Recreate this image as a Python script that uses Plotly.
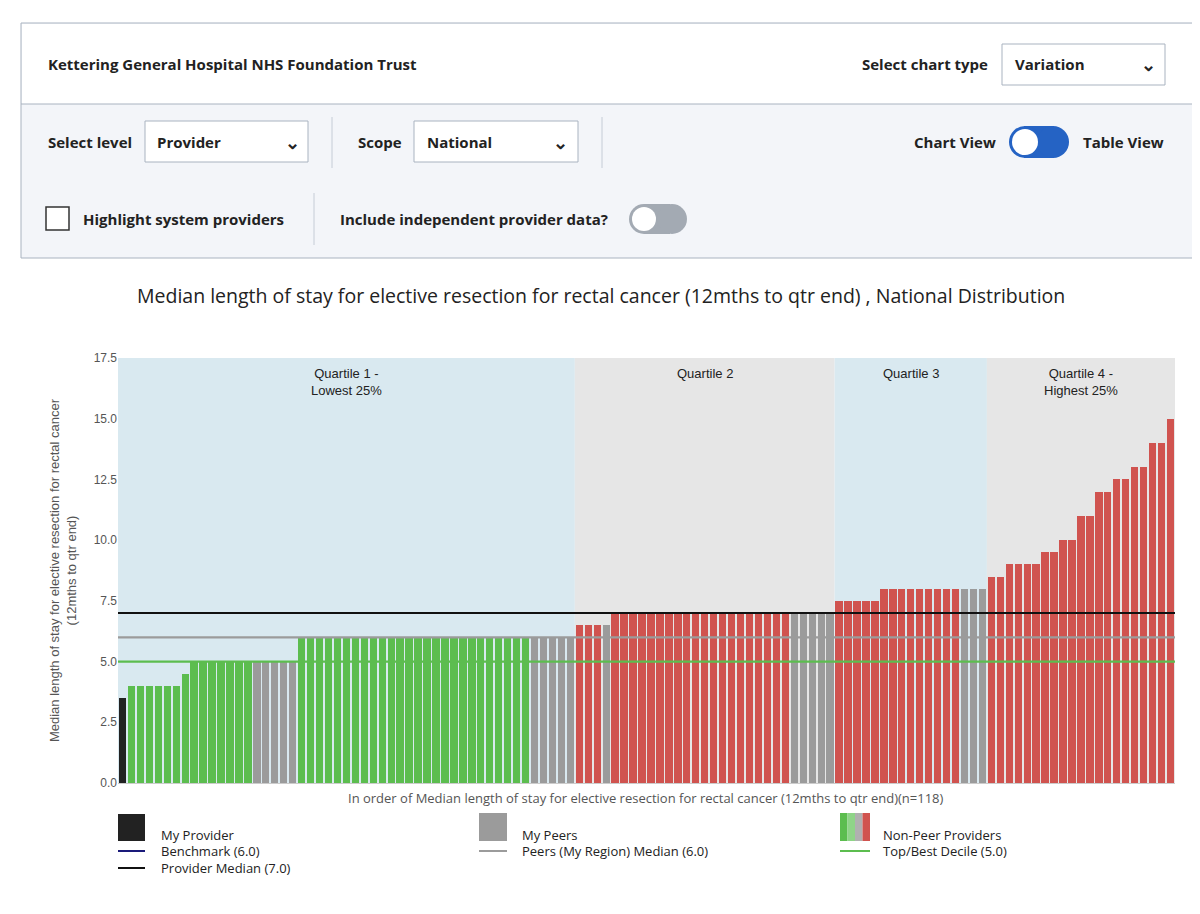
import plotly.graph_objects as go

# bar values in rank order (n=118)
values = [3.5,
          4.0, 4.0, 4.0, 4.0, 4.0, 4.0, 4.5,
          5.0, 5.0, 5.0, 5.0, 5.0, 5.0, 5.0, 5.0, 5.0, 5.0, 5.0, 5.0,
          6.0, 6.0, 6.0, 6.0, 6.0, 6.0, 6.0, 6.0, 6.0, 6.0, 6.0, 6.0, 6.0,
          6.0, 6.0, 6.0, 6.0, 6.0, 6.0, 6.0, 6.0, 6.0, 6.0, 6.0, 6.0, 6.0,
          6.0, 6.0, 6.0, 6.0, 6.0,
          6.5, 6.5, 6.5, 6.5,
          7.0, 7.0, 7.0, 7.0, 7.0, 7.0, 7.0, 7.0, 7.0, 7.0, 7.0, 7.0, 7.0,
          7.0, 7.0, 7.0, 7.0, 7.0, 7.0, 7.0, 7.0, 7.0, 7.0, 7.0, 7.0,
          7.5, 7.5, 7.5, 7.5, 7.5,
          8.0, 8.0, 8.0, 8.0, 8.0, 8.0, 8.0, 8.0, 8.0, 8.0, 8.0, 8.0,
          8.5, 8.5, 9.0, 9.0, 9.0, 9.0, 9.5, 9.5, 10.0, 10.0, 11.0, 11.0,
          12.0, 12.0, 12.5, 12.5, 13.0, 13.0, 14.0, 14.0, 15.0]
# M = my provider, P = peer, G = non-peer better, R = non-peer worse
groups = list("M" + "G" * 7 + "G" * 7 + "P" * 5 + "G" * 26 + "P" * 5
              + "RRRP" + "R" * 20 + "P" * 5 + "R" * 5 + "R" * 9 + "P" * 3
              + "R" * 21)
group_colors = {"M": "#222222", "P": "#9b9b9b", "G": "#5cbd4f", "R": "#d0534f"}

quartile_edges = [0.5, 51.5, 80.5, 97.5, 118.5]
quartile_labels = ["Quartile 1 -<br>Lowest 25%", "Quartile 2", "Quartile 3",
                   "Quartile 4 -<br>Highest 25%"]
quartile_fill = ["#d9e9f0", "#e6e6e6", "#d9e9f0", "#e6e6e6"]

provider_median = 7.0
peer_median = 6.0
top_decile = 5.0

W, H = 1200, 914
L, R, T, B = 110, 1167, 350, 775


def px(x):
    return (x - L) / (R - L)


def py(y):
    return (B - y) / (B - T)


xs = list(range(1, len(values) + 1))
fig = go.Figure(go.Bar(x=xs, y=values, marker_color=[group_colors[g] for g in groups],
                       marker_line_width=0, width=0.82, showlegend=False))

shapes = []
annotations = []
for i in range(4):
    shapes.append(dict(type="rect", xref="x", yref="paper", x0=quartile_edges[i],
                       x1=quartile_edges[i + 1], y0=0, y1=1, fillcolor=quartile_fill[i],
                       line_width=0, layer="below"))
    annotations.append(dict(xref="x", yref="paper", x=(quartile_edges[i] + quartile_edges[i + 1]) / 2,
                            y=0.985, yanchor="top", text=quartile_labels[i], showarrow=False,
                            font=dict(size=13, color="#222")))
for val, col in [(peer_median, "#9b9b9b"), (top_decile, "#5cbd4f"), (provider_median, "#111")]:
    shapes.append(dict(type="line", xref="paper", yref="y", x0=0, x1=1, y0=val, y1=val,
                       line=dict(color=col, width=2.2)))


def prect(x0, y0, x1, y1, fill, line="rgba(0,0,0,0)", lw=1):
    shapes.append(dict(type="rect", xref="paper", yref="paper", x0=px(x0), x1=px(x1),
                       y0=py(y1), y1=py(y0), fillcolor=fill, line=dict(color=line, width=lw),
                       layer="above"))


def ptext(x, y, text, size=16, anchor="left", color="#222", bold=False):
    if bold:
        text = "<b>" + text + "</b>"
    annotations.append(dict(xref="paper", yref="paper", x=px(x), y=py(y), text=text,
                            showarrow=False, xanchor=anchor, yanchor="middle",
                            font=dict(size=size, color=color, family="Open Sans")))


def pline(x0, y0, x1, y1, col, w=1):
    shapes.append(dict(type="line", xref="paper", yref="paper", x0=px(x0), x1=px(x1),
                       y0=py(y0), y1=py(y1), line=dict(color=col, width=w)))


# control panel
prect(13, 15, 1186, 250, "#f3f5f9", "#a9b3c0", 1)
prect(14, 16, 1185, 96, "#ffffff")
pline(13, 96, 1186, 96, "#a9b3c0")
ptext(38, 56, "Kettering General Hospital NHS Foundation Trust", 15, bold=True)
ptext(982, 56, "Select chart type", 15, "right", bold=True)
prect(994, 36, 1157, 77, "#ffffff", "#a9b3c0")
ptext(1005, 56, "Variation", 15, bold=True)
ptext(1140, 56, "⌄", 18, "center", bold=True)
ptext(38, 134, "Select level", 15, bold=True)
prect(137, 113, 300, 154, "#ffffff", "#a9b3c0")
ptext(147, 134, "Provider", 15, bold=True)
ptext(284, 134, "⌄", 18, "center", bold=True)
pline(324, 109, 324, 160, "#c5ccd6")
ptext(348, 134, "Scope", 15, bold=True)
prect(406, 113, 570, 154, "#ffffff", "#a9b3c0")
ptext(417, 134, "National", 15, bold=True)
ptext(552, 134, "⌄", 18, "center", bold=True)
pline(594, 109, 594, 160, "#c5ccd6")
ptext(990, 134, "Chart View", 15, "right", bold=True)
shapes.append(dict(type="path", xref="paper", yref="paper", layer="above",
                   path="M {0},{1} L {2},{1} L {2},{3} L {0},{3} Z".format(px(1016), py(118), px(1046), py(150)),
                   fillcolor="#2563c4", line=dict(width=0)))
shapes.append(dict(type="circle", xref="paper", yref="paper", x0=px(1001), x1=px(1033),
                   y0=py(150), y1=py(118), fillcolor="#2563c4", line_width=0))
shapes.append(dict(type="circle", xref="paper", yref="paper", x0=px(1029), x1=px(1061),
                   y0=py(150), y1=py(118), fillcolor="#2563c4", line_width=0))
shapes.append(dict(type="circle", xref="paper", yref="paper", x0=px(1004), x1=px(1030),
                   y0=py(147), y1=py(121), fillcolor="#ffffff", line_width=0))
ptext(1073, 134, "Table View", 15, bold=True)
prect(38, 199, 61, 222, "#ffffff", "#333", 1.5)
ptext(73, 211, "Highlight system providers", 15, bold=True)
pline(306, 185, 306, 237, "#c5ccd6")
ptext(330, 211, "Include independent provider data?", 15, bold=True)
shapes.append(dict(type="path", xref="paper", yref="paper", layer="above",
                   path="M {0},{1} L {2},{1} L {2},{3} L {0},{3} Z".format(px(636), py(196), px(662), py(226)),
                   fillcolor="#a3aab3", line=dict(width=0)))
for cx in (621, 649):
    shapes.append(dict(type="circle", xref="paper", yref="paper", x0=px(cx), x1=px(cx + 30),
                       y0=py(226), y1=py(196), fillcolor="#a3aab3", line_width=0))
shapes.append(dict(type="circle", xref="paper", yref="paper", x0=px(624), x1=px(648),
                   y0=py(223), y1=py(199), fillcolor="#ffffff", line_width=0))

# chart title
ptext(593, 287, "Median length of stay for elective resection for rectal cancer (12mths to qtr end) , National Distribution",
      19.5, "center", "#222")
ptext(638, 790, "In order of Median length of stay for elective resection for rectal cancer (12mths to qtr end)(n=118)",
      13, "center", "#555")

# legend
prect(110, 806, 137, 833, "#222222")
ptext(151, 827, "My Provider", 13)
pline(110, 843, 137, 843, "#1a1a7a", 2)
ptext(151, 843, "Benchmark (6.0)", 13)
pline(110, 860, 137, 860, "#111", 2)
ptext(151, 860, "Provider Median (7.0)", 13)
prect(471, 805, 499, 833, "#9b9b9b")
ptext(512, 827, "My Peers", 13)
pline(471, 843, 499, 843, "#9b9b9b", 2)
ptext(512, 843, "Peers (My Region) Median (6.0)", 13)
for i, c in enumerate(["#5cbd4f", "#8fd488", "#b0b0b0", "#d0534f"]):
    prect(832 + i * 7.5, 805, 839.5 + i * 7.5, 833, c)
ptext(873, 827, "Non-Peer Providers", 13)
pline(832, 843, 862, 843, "#5cbd4f", 2)
ptext(873, 843, "Top/Best Decile (5.0)", 13)

fig.update_layout(
    width=W, height=H, margin=dict(l=L, r=W - R, t=T, b=H - B),
    paper_bgcolor="#ffffff", plot_bgcolor="#ffffff", bargap=0,
    font=dict(family="Liberation Sans, Arial", color="#444"),
    shapes=shapes, annotations=annotations,
    xaxis=dict(range=[0.5, 118.5], showticklabels=False, showgrid=False, zeroline=False,
               ticks="", showline=True, linecolor="#ccc"),
    yaxis=dict(range=[0, 17.5], tickvals=[0, 2.5, 5, 7.5, 10, 12.5, 15, 17.5],
               ticktext=["0.0", "2.5", "5.0", "7.5", "10.0", "12.5", "15.0", "17.5"],
               tickfont=dict(size=12, color="#555"), showgrid=False, zeroline=False,
               title=dict(text="Median length of stay for elective resection for rectal cancer<br>(12mths to qtr end)",
                          font=dict(size=13, color="#555"), standoff=14)),
)
fig.write_html("out.html")
